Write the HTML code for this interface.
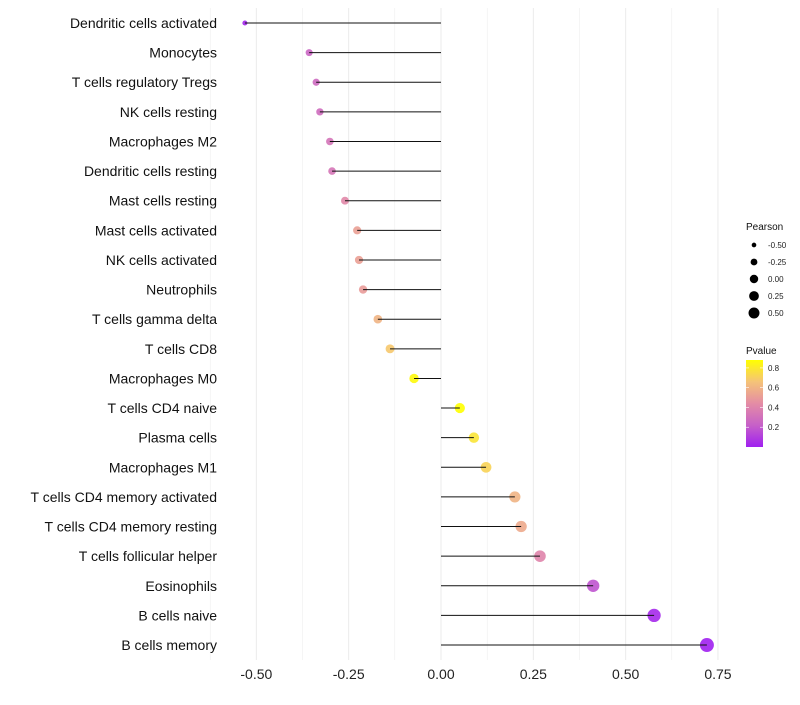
<!DOCTYPE html>
<html><head><meta charset="utf-8"><style>
body{margin:0;background:#fff;font-family:"Liberation Sans",sans-serif}
</style></head><body>
<svg id="chart" width="800" height="700"></svg>
<script>
const categories=["Dendritic cells activated","Monocytes","T cells regulatory  Tregs ","NK cells resting","Macrophages M2","Dendritic cells resting","Mast cells resting","Mast cells activated","NK cells activated","Neutrophils","T cells gamma delta","T cells CD8","Macrophages M0","T cells CD4 naive","Plasma cells","Macrophages M1","T cells CD4 memory activated","T cells CD4 memory resting","T cells follicular helper","Eosinophils","B cells naive","B cells memory"];
const pearson=[-0.531,-0.357,-0.338,-0.328,-0.301,-0.295,-0.260,-0.227,-0.222,-0.211,-0.171,-0.138,-0.073,0.051,0.089,0.122,0.200,0.217,0.268,0.412,0.577,0.720];
const pvalue=[0.02,0.25,0.27,0.28,0.32,0.33,0.42,0.52,0.52,0.5,0.6,0.68,0.86,0.88,0.78,0.72,0.6,0.56,0.4,0.18,0.03,0.0];
const xTicks=[-0.5,-0.25,0,0.25,0.5,0.75];
const xTickLabels=["-0.50","-0.25","0.00","0.25","0.50","0.75"];
const sizeLegend=[-0.5,-0.25,0,0.25,0.5];
const colorLegend=[0.2,0.4,0.6,0.8];

const NS="http://www.w3.org/2000/svg";
const svg=document.getElementById('chart');
function el(t,a,p){const e=document.createElementNS(NS,t);for(const k in a)e.setAttribute(k,a[k]);(p||svg).appendChild(e);return e;}
const x=v=>441+369.3*v;
const y=i=>23+i*29.62;
const r=v=>Math.max(1.8,Math.sqrt(Math.max(0,24.5+34*v)));
const stops=[[0,[160,32,240]],[0.25,[198,96,200]],[0.5,[228,140,165]],[0.75,[245,195,120]],[1,[255,255,0]]];
function col(p){const t=Math.min(1,Math.max(0,p/0.88));for(let i=1;i<stops.length;i++){if(t<=stops[i][0]){const a=stops[i-1],b=stops[i],f=(t-a[0])/(b[0]-a[0]);return 'rgb('+a[1].map((c,k)=>Math.round(c+(b[1][k]-c)*f)).join(',')+')';}}return 'rgb(255,255,0)';}
for(let v=-0.625;v<=0.8;v+=0.125){const g=el('line',{x1:x(v),x2:x(v),y1:8,y2:660,stroke:'#ebebeb','stroke-width':Math.abs((v*4)%1)<0.01?1:0.5});

}
xTicks.forEach((v,i)=>{const t=el('text',{x:x(v),y:679,'text-anchor':'middle','font-size':14,fill:'#222'});t.textContent=xTickLabels[i];

});
categories.forEach((c,i)=>{
const t=el('text',{x:217,y:y(i)+5,'text-anchor':'end','font-size':14,fill:'#111'});t.textContent=c;


const d=el('circle',{cx:x(pearson[i]),cy:y(i),r:r(pearson[i]),fill:col(pvalue[i]),'fill-opacity':0.9});


const l=el('line',{x1:x(0),x2:x(pearson[i]),y1:y(i),y2:y(i),stroke:'#111','stroke-width':1});


});
let t=el('text',{x:746,y:230,'font-size':10,fill:'#111'});t.textContent='Pearson';


sizeLegend.forEach((v,i)=>{const cy=245+i*17;
const c=el('circle',{cx:754,cy:cy,r:r(v)*0.85,fill:'#000'});


const tx=el('text',{x:768,y:cy+3,'font-size':8,fill:'#222'});tx.textContent=v.toFixed(2);

});
t=el('text',{x:746,y:354,'font-size':10,fill:'#111'});t.textContent='Pvalue';


const defs=el('defs',{});const lg=el('linearGradient',{id:'pg',x1:0,y1:1,x2:0,y2:0},defs);
stops.forEach(s=>el('stop',{offset:s[0],'stop-color':'rgb('+s[1].join(',')+')'},lg));
const cb=el('rect',{x:746,y:360,width:17,height:87,fill:'url(#pg)'});


colorLegend.forEach(v=>{const cy=447-v/0.88*87;
el('line',{x1:746,x2:749,y1:cy,y2:cy,stroke:'#fff','stroke-width':0.6});el('line',{x1:760,x2:763,y1:cy,y2:cy,stroke:'#fff','stroke-width':0.6});
const tx=el('text',{x:768,y:cy+3,'font-size':8,fill:'#222'});tx.textContent=v.toFixed(1);

});
</script>
</body></html>
